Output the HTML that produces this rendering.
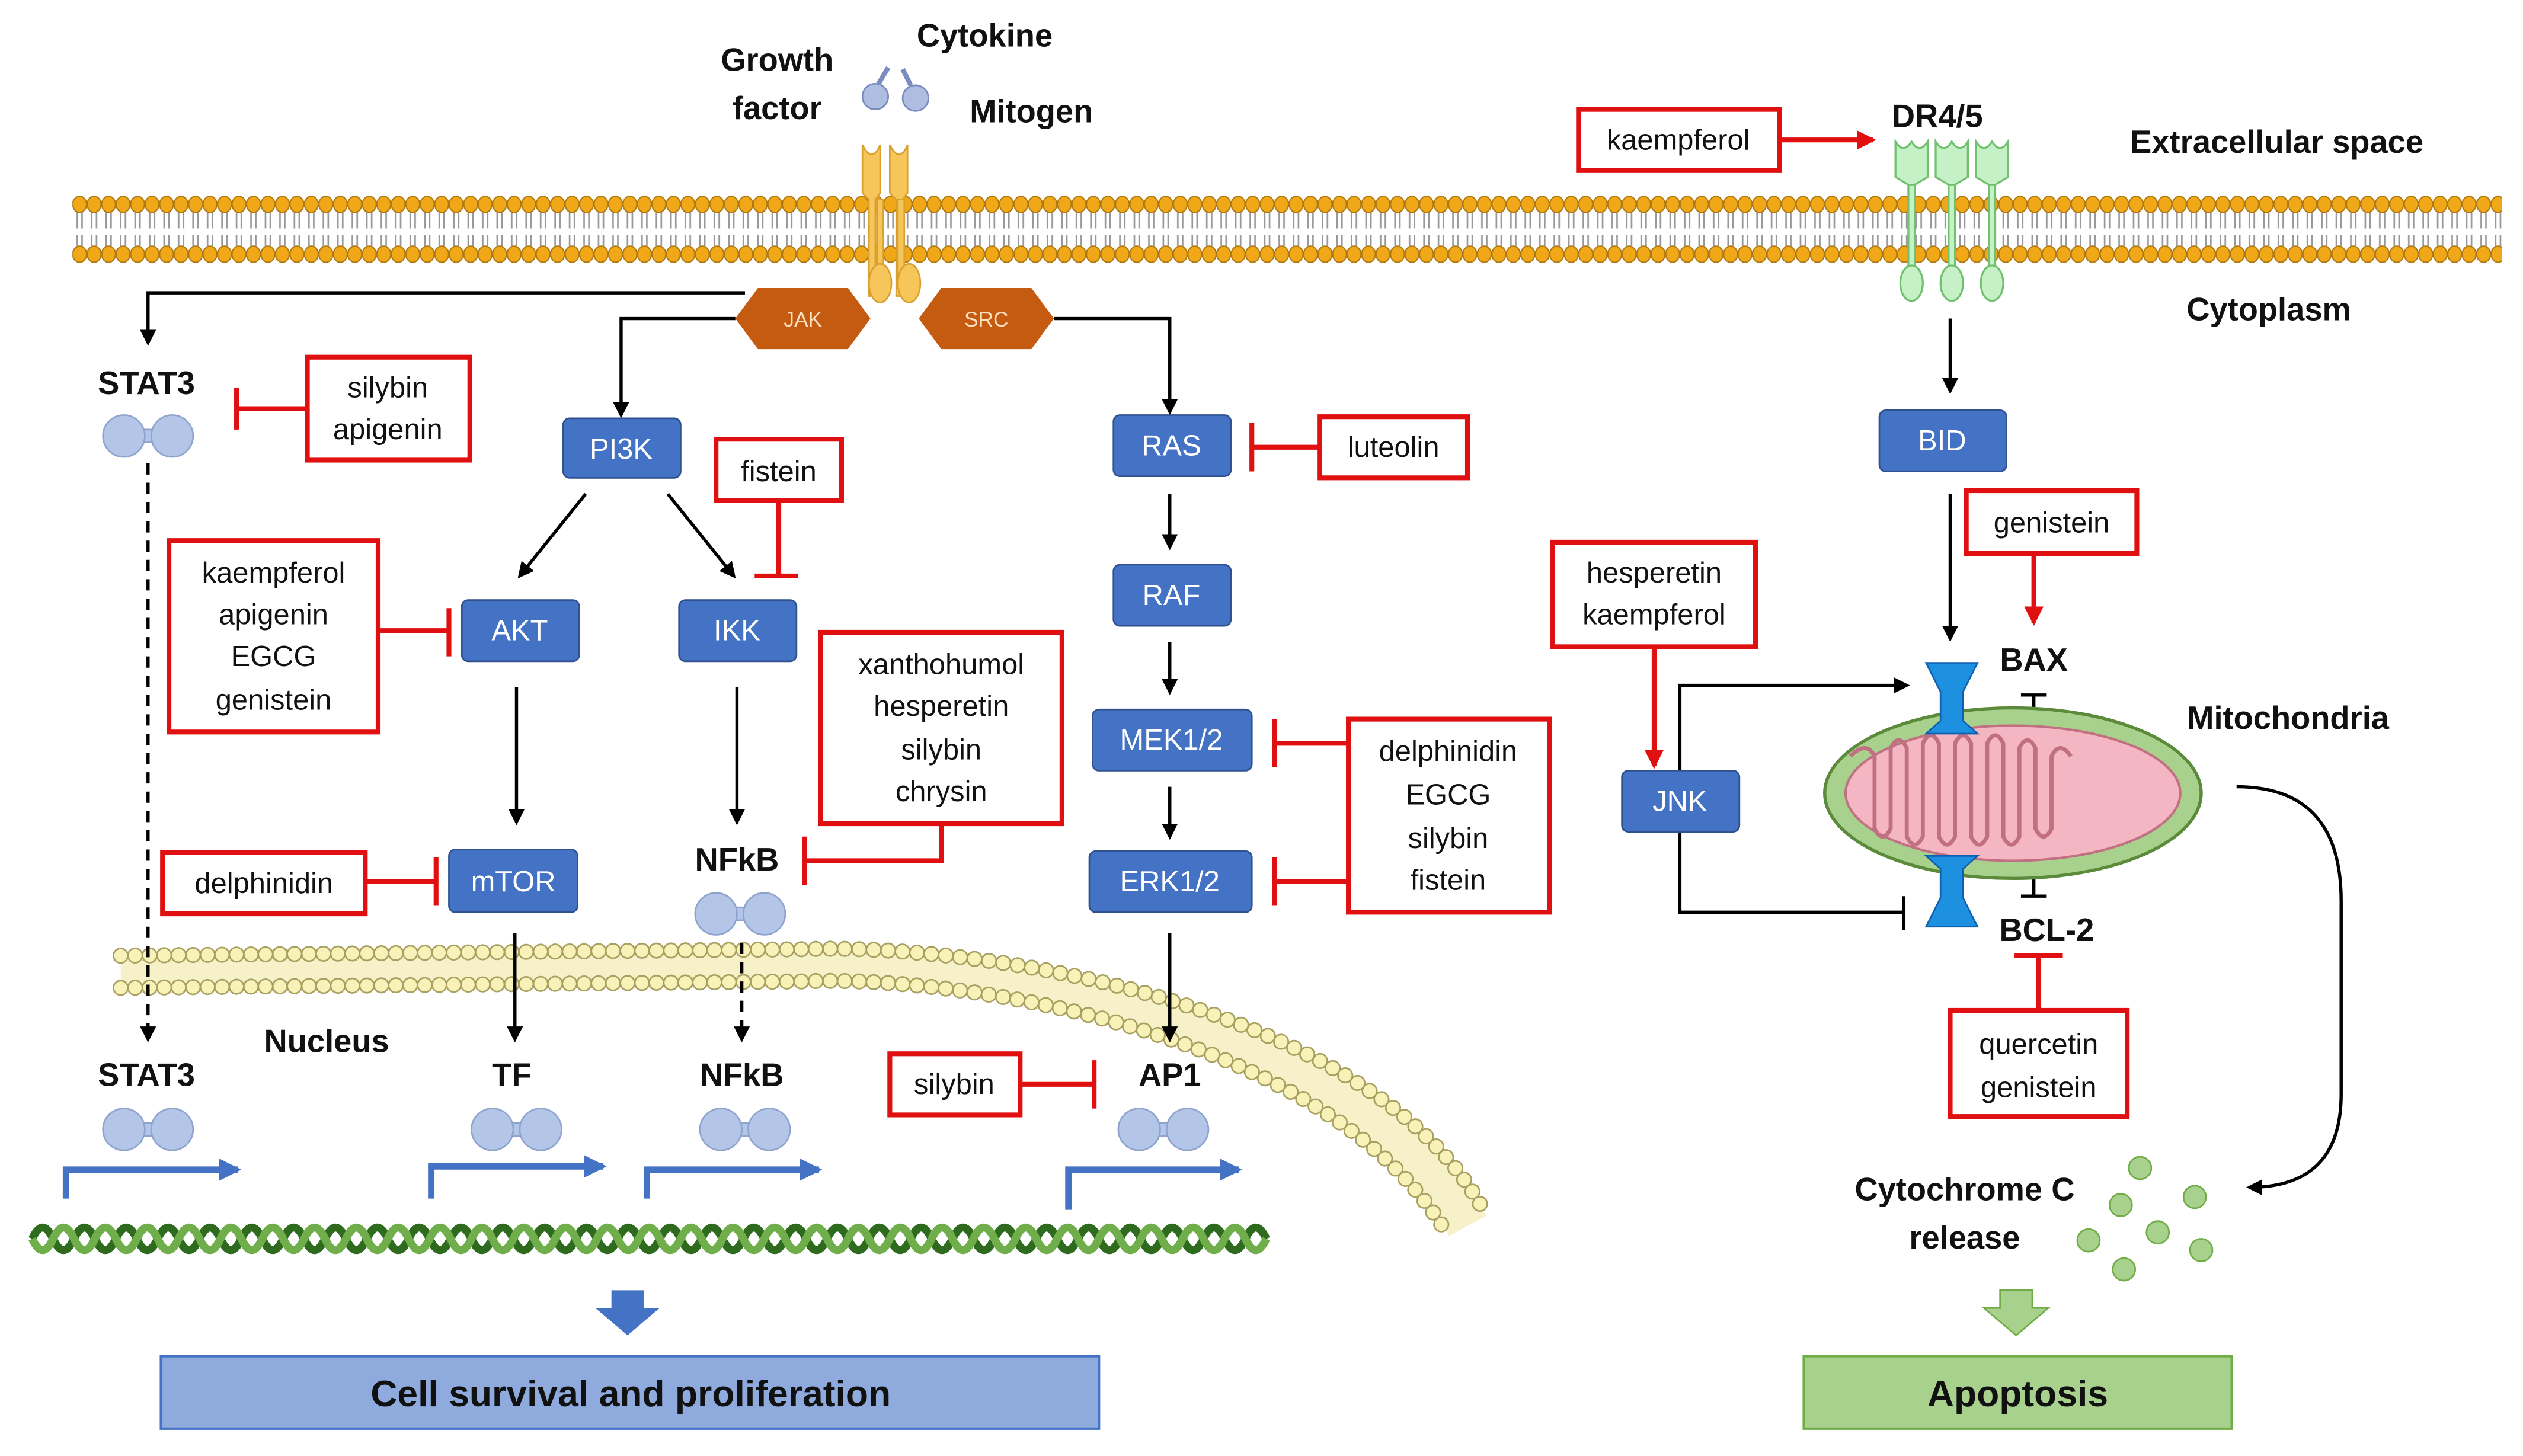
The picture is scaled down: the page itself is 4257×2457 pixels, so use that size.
<!DOCTYPE html>
<html><head><meta charset="utf-8"><style>
html,body{margin:0;padding:0;background:#fff;}
svg{display:block;}
text{font-family:"Liberation Sans",sans-serif;}
.b{font-weight:bold;font-size:20px;fill:#111;}
.w{fill:#fff;font-size:18px;}
.r{font-size:18px;fill:#111;}
</style></head><body>
<svg width="4257" height="2457" viewBox="0 0 1568 905" xmlns="http://www.w3.org/2000/svg">
<defs>
<pattern id="mem" x="45" y="0" width="9" height="905" patternUnits="userSpaceOnUse">
<path d="M3,131 L3,142 M6,131 L6,142 M3,146 L3,155 M6,146 L6,155" stroke="#999" stroke-width="1"/>
<ellipse cx="4.5" cy="127" rx="4.3" ry="5" fill="#f0a818" stroke="#b07810" stroke-width="0.8"/>
<ellipse cx="4.5" cy="158" rx="4.3" ry="5" fill="#f0a818" stroke="#b07810" stroke-width="0.8"/>
</pattern>
<marker id="a" markerWidth="10" markerHeight="10" refX="8" refY="5" orient="auto" markerUnits="userSpaceOnUse"><path d="M0,0 L10,5 L0,10 z" fill="#000"/></marker>
<marker id="ar" markerWidth="12" markerHeight="12" refX="10" refY="6" orient="auto" markerUnits="userSpaceOnUse"><path d="M0,0 L12,6 L0,12 z" fill="#e01010"/></marker>
<marker id="ab" markerWidth="14" markerHeight="14" refX="12" refY="7" orient="auto" markerUnits="userSpaceOnUse"><path d="M0,0 L14,7 L0,14 z" fill="#4472c4"/></marker>
</defs>

<rect x="45" y="118" width="1510" height="46" fill="url(#mem)"/>

<g fill="#aebde0" stroke="#7a8cc0" stroke-width="1">
<circle cx="544" cy="60" r="8"/><circle cx="569" cy="61" r="8"/>
<path d="M546,52 L552,42" stroke-width="3"/><path d="M566,53 L561,43" stroke-width="3"/>
</g>
<g fill="#f6c65a" stroke="#d9a030" stroke-width="1">
<path d="M536,90 q6,12 11,0 l0,30 -3,4 0,60 -4,0 0,-60 -4,-4z"/>
<path d="M553,90 q6,12 11,0 l0,30 -3,4 0,60 -4,0 0,-60 -4,-4z"/>
<rect x="545" y="124" width="4" height="50"/><rect x="558" y="124" width="4" height="50"/>
<ellipse cx="547" cy="176" rx="7" ry="12"/><ellipse cx="565" cy="176" rx="7" ry="12"/>
</g>

<g fill="#c6f0c6" stroke="#70c070" stroke-width="1.2">
<path d="M1178,88 q5,8 10,0 q5,8 10,0 l0,22 -10,6 -10,-6z"/>
<path d="M1203,88 q5,8 10,0 q5,8 10,0 l0,22 -10,6 -10,-6z"/>
<path d="M1228,88 q5,8 10,0 q5,8 10,0 l0,22 -10,6 -10,-6z"/>
<rect x="1186" y="115" width="4" height="55"/><rect x="1211" y="115" width="4" height="55"/><rect x="1236" y="115" width="4" height="55"/>
<ellipse cx="1188" cy="176" rx="7" ry="11"/><ellipse cx="1213" cy="176" rx="7" ry="11"/><ellipse cx="1238" cy="176" rx="7" ry="11"/>
</g>

<text class="b" x="483" y="44" text-anchor="middle">Growth</text>
<text class="b" x="483" y="74" text-anchor="middle">factor</text>
<text class="b" x="612" y="29" text-anchor="middle">Cytokine</text>
<text class="b" x="641" y="76" text-anchor="middle">Mitogen</text>
<text class="b" x="1204" y="79" text-anchor="middle">DR4/5</text>
<text class="b" x="1415" y="95" text-anchor="middle">Extracellular space</text>
<text class="b" x="1410" y="199" text-anchor="middle">Cytoplasm</text>

<polygon points="471,179 527,179 541,198 527,217 471,217 457,198" fill="#c55a11"/>
<polygon points="585,179 641,179 655,198 641,217 585,217 571,198" fill="#c55a11"/>
<text x="499" y="203" fill="#fde0c0" font-size="13" text-anchor="middle">JAK</text>
<text x="613" y="203" fill="#fde0c0" font-size="13" text-anchor="middle">SRC</text>

<!-- nuclear membrane -->
<g fill="none" stroke-linecap="round">
<path d="M75,604 L500,600 C600,596 840,630 912,762" stroke="#f6f1c8" stroke-width="26" stroke-linecap="butt"/>
<path d="M75,594 L500,590 C605,586 855,622 924,756" stroke="#a8a060" stroke-width="10" stroke-dasharray="0 9"/>
<path d="M75,594 L500,590 C605,586 855,622 924,756" stroke="#f8f2b8" stroke-width="8" stroke-dasharray="0 9"/>
<path d="M75,614 L500,610 C595,606 825,640 900,768" stroke="#a8a060" stroke-width="10" stroke-dasharray="0 9"/>
<path d="M75,614 L500,610 C595,606 825,640 900,768" stroke="#f8f2b8" stroke-width="8" stroke-dasharray="0 9"/>
</g>

<g stroke="#000" stroke-width="2" fill="none">
<path d="M463,182 L92,182 L92,213" marker-end="url(#a)"/>
<path d="M457,198 L386,198 L386,258" marker-end="url(#a)"/>
<path d="M655,198 L727,198 L727,256" marker-end="url(#a)"/>
<path d="M364,307 L323,358" marker-end="url(#a)"/>
<path d="M415,307 L456,358" marker-end="url(#a)"/>
<path d="M321,427 L321,511" marker-end="url(#a)"/>
<path d="M458,427 L458,511" marker-end="url(#a)"/>
<path d="M727,307 L727,340" marker-end="url(#a)"/>
<path d="M727,399 L727,430" marker-end="url(#a)"/>
<path d="M727,489 L727,520" marker-end="url(#a)"/>
<path d="M727,580 L727,646" marker-end="url(#a)"/>
<path d="M320,580 L320,646" marker-end="url(#a)"/>
<path d="M92,288 L92,646" stroke-dasharray="7,5" marker-end="url(#a)"/>
<path d="M461,586 L461,646" stroke-dasharray="7,5" marker-end="url(#a)"/>
<path d="M1212,198 L1212,243" marker-end="url(#a)"/>
<path d="M1212,307 L1212,397" marker-end="url(#a)"/>
<path d="M1044,479 L1044,426 L1185,426" marker-end="url(#a)"/>
<path d="M1044,517 L1044,567 L1183,567"/><path d="M1183,557 L1183,578"/>
<path d="M1264,432 L1264,557"/><path d="M1256,432 L1272,432"/><path d="M1256,557 L1272,557"/>
<path d="M1390,489 Q1455,489 1455,560 L1455,680 Q1455,738 1398,738" marker-end="url(#a)"/>
</g>

<!-- mitochondrion -->
<ellipse cx="1251" cy="493" rx="117" ry="53" fill="#a9d18e" stroke="#5a8a3a" stroke-width="2"/>
<ellipse cx="1251" cy="493" rx="104" ry="42" fill="#f4b6c2" stroke="#c07080" stroke-width="1.5"/>
<path d="M1150,470 q10,-10 15,0 l0,45 q5,10 10,0 l0,-50 q5,-10 10,0 l0,55 q5,10 10,0 l0,-58 q5,-10 10,0 l0,58 q5,10 10,0 l0,-58 q5,-10 10,0 l0,58 q5,10 10,0 l0,-58 q5,-10 10,0 l0,58 q5,10 10,0 l0,-55 q5,-10 10,0 l0,50 q5,10 10,0 l0,-45 q5,-10 12,0" fill="none" stroke="#c07080" stroke-width="2.5"/>
<g fill="#1e90e0" stroke="#1060b0">
<path d="M1197,412 L1229,412 L1220,430 L1220,448 L1229,456 L1197,456 L1206,448 L1206,430z"/>
<path d="M1197,532 L1229,532 L1220,540 L1220,558 L1229,576 L1197,576 L1206,558 L1206,540z"/>
</g>
<text class="b" x="1264" y="417" text-anchor="middle">BAX</text>
<text class="b" x="1272" y="585" text-anchor="middle">BCL-2</text>
<text class="b" x="1422" y="453" text-anchor="middle">Mitochondria</text>

<g fill="#4472c4" stroke="#2f528f" stroke-width="1">
<rect x="350" y="260" width="73" height="37" rx="4"/>
<rect x="287" y="373" width="73" height="38" rx="4"/>
<rect x="422" y="373" width="73" height="38" rx="4"/>
<rect x="279" y="528" width="80" height="39" rx="4"/>
<rect x="692" y="258" width="73" height="38" rx="4"/>
<rect x="692" y="351" width="73" height="38" rx="4"/>
<rect x="679" y="441" width="99" height="38" rx="4"/>
<rect x="677" y="529" width="101" height="38" rx="4"/>
<rect x="1168" y="255" width="79" height="38" rx="4"/>
<rect x="1008" y="479" width="73" height="38" rx="4"/>
</g>
<g text-anchor="middle">
<text class="w" x="386" y="285">PI3K</text>
<text class="w" x="323" y="398">AKT</text>
<text class="w" x="458" y="398">IKK</text>
<text class="w" x="319" y="554">mTOR</text>
<text class="w" x="728" y="283">RAS</text>
<text class="w" x="728" y="376">RAF</text>
<text class="w" x="728" y="466">MEK1/2</text>
<text class="w" x="727" y="554">ERK1/2</text>
<text class="w" x="1207" y="280">BID</text>
<text class="w" x="1044" y="504">JNK</text>
</g>

<g fill="#fff" stroke="#e01010" stroke-width="3">
<rect x="191" y="222" width="101" height="64"/>
<rect x="445" y="273" width="78" height="38"/>
<rect x="105" y="336" width="130" height="119"/>
<rect x="510" y="393" width="150" height="119"/>
<rect x="820" y="259" width="92" height="38"/>
<rect x="101" y="530" width="126" height="38"/>
<rect x="838" y="447" width="125" height="120"/>
<rect x="553" y="655" width="81" height="38"/>
<rect x="981" y="68" width="125" height="38"/>
<rect x="1222" y="305" width="106" height="39"/>
<rect x="965" y="337" width="126" height="65"/>
<rect x="1212" y="628" width="110" height="66"/>
</g>
<g stroke="#e01010" stroke-width="3" fill="none">
<path d="M191,254 L147,254 M147,241 L147,267"/>
<path d="M484,311 L484,358 M469,358 L496,358"/>
<path d="M235,392 L279,392 M279,378 L279,408"/>
<path d="M585,512 L585,535 L500,535 M500,520 L500,550"/>
<path d="M820,278 L778,278 M778,263 L778,293"/>
<path d="M227,548 L271,548 M271,533 L271,563"/>
<path d="M838,462 L792,462 M792,447 L792,477"/>
<path d="M838,548 L792,548 M792,533 L792,563"/>
<path d="M634,674 L680,674 M680,659 L680,689"/>
<path d="M1267,628 L1267,594 M1252,594 L1282,594"/>
<path d="M1106,87 L1164,87" marker-end="url(#ar)"/>
<path d="M1264,344 L1264,387" marker-end="url(#ar)"/>
<path d="M1028,402 L1028,476" marker-end="url(#ar)"/>
</g>
<g text-anchor="middle">
<text class="r" x="241" y="247">silybin</text><text class="r" x="241" y="273">apigenin</text>
<text class="r" x="484" y="299">fistein</text>
<text class="r" x="170" y="362">kaempferol</text><text class="r" x="170" y="388">apigenin</text><text class="r" x="170" y="414">EGCG</text><text class="r" x="170" y="441">genistein</text>
<text class="r" x="585" y="419">xanthohumol</text><text class="r" x="585" y="445">hesperetin</text><text class="r" x="585" y="472">silybin</text><text class="r" x="585" y="498">chrysin</text>
<text class="r" x="866" y="284">luteolin</text>
<text class="r" x="164" y="555">delphinidin</text>
<text class="r" x="900" y="473">delphinidin</text><text class="r" x="900" y="500">EGCG</text><text class="r" x="900" y="527">silybin</text><text class="r" x="900" y="553">fistein</text>
<text class="r" x="593" y="680">silybin</text>
<text class="r" x="1043" y="93">kaempferol</text>
<text class="r" x="1275" y="331">genistein</text>
<text class="r" x="1028" y="362">hesperetin</text><text class="r" x="1028" y="388">kaempferol</text>
<text class="r" x="1267" y="655">quercetin</text><text class="r" x="1267" y="682">genistein</text>
</g>

<text class="b" x="91" y="245" text-anchor="middle">STAT3</text>
<text class="b" x="458" y="541" text-anchor="middle">NFkB</text>
<text class="b" x="203" y="654" text-anchor="middle">Nucleus</text>
<text class="b" x="91" y="675" text-anchor="middle">STAT3</text>
<text class="b" x="318" y="675" text-anchor="middle">TF</text>
<text class="b" x="461" y="675" text-anchor="middle">NFkB</text>
<text class="b" x="727" y="675" text-anchor="middle">AP1</text>

<g fill="#b4c6e7" stroke="#8ea4cf" stroke-width="1">
<g transform="translate(92,271)"><rect x="-12" y="-4" width="24" height="8"/><circle cx="-15" cy="0" r="13"/><circle cx="15" cy="0" r="13"/></g>
<g transform="translate(460,568)"><rect x="-12" y="-4" width="24" height="8"/><circle cx="-15" cy="0" r="13"/><circle cx="15" cy="0" r="13"/></g>
<g transform="translate(92,702)"><rect x="-12" y="-4" width="24" height="8"/><circle cx="-15" cy="0" r="13"/><circle cx="15" cy="0" r="13"/></g>
<g transform="translate(321,702)"><rect x="-12" y="-4" width="24" height="8"/><circle cx="-15" cy="0" r="13"/><circle cx="15" cy="0" r="13"/></g>
<g transform="translate(463,702)"><rect x="-12" y="-4" width="24" height="8"/><circle cx="-15" cy="0" r="13"/><circle cx="15" cy="0" r="13"/></g>
<g transform="translate(723,702)"><rect x="-12" y="-4" width="24" height="8"/><circle cx="-15" cy="0" r="13"/><circle cx="15" cy="0" r="13"/></g>
</g>

<g stroke="#4472c4" stroke-width="4" fill="none">
<path d="M41,745 L41,727 L148,727" marker-end="url(#ab)"/>
<path d="M268,745 L268,725 L375,725" marker-end="url(#ab)"/>
<path d="M402,745 L402,727 L509,727" marker-end="url(#ab)"/>
<path d="M664,752 L664,727 L770,727" marker-end="url(#ab)"/>
</g>

<g fill="none" stroke-width="5">
<path stroke="#2e6b1e" d="M20,770 q6.5,-14 13,0 t13,0 t13,0 t13,0 t13,0 t13,0 t13,0 t13,0 t13,0 t13,0 t13,0 t13,0 t13,0 t13,0 t13,0 t13,0 t13,0 t13,0 t13,0 t13,0 t13,0 t13,0 t13,0 t13,0 t13,0 t13,0 t13,0 t13,0 t13,0 t13,0 t13,0 t13,0 t13,0 t13,0 t13,0 t13,0 t13,0 t13,0 t13,0 t13,0 t13,0 t13,0 t13,0 t13,0 t13,0 t13,0 t13,0 t13,0 t13,0 t13,0 t13,0 t13,0 t13,0 t13,0 t13,0 t13,0 t13,0 t13,0 t13,0"/>
<path stroke="#6fae4a" d="M20,770 q6.5,14 13,0 t13,0 t13,0 t13,0 t13,0 t13,0 t13,0 t13,0 t13,0 t13,0 t13,0 t13,0 t13,0 t13,0 t13,0 t13,0 t13,0 t13,0 t13,0 t13,0 t13,0 t13,0 t13,0 t13,0 t13,0 t13,0 t13,0 t13,0 t13,0 t13,0 t13,0 t13,0 t13,0 t13,0 t13,0 t13,0 t13,0 t13,0 t13,0 t13,0 t13,0 t13,0 t13,0 t13,0 t13,0 t13,0 t13,0 t13,0 t13,0 t13,0 t13,0 t13,0 t13,0 t13,0 t13,0 t13,0 t13,0 t13,0 t13,0"/>
</g>

<text class="b" x="1221" y="746" text-anchor="middle">Cytochrome C</text>
<text class="b" x="1221" y="776" text-anchor="middle">release</text>
<g fill="#a9d18e" stroke="#70ad47" stroke-width="1">
<circle cx="1330" cy="726" r="7"/><circle cx="1318" cy="749" r="7"/><circle cx="1364" cy="744" r="7"/>
<circle cx="1341" cy="766" r="7"/><circle cx="1298" cy="771" r="7"/><circle cx="1368" cy="777" r="7"/><circle cx="1320" cy="789" r="7"/>
</g>

<path d="M380,802 L400,802 L400,813 L410,813 L390,830 L370,813 L380,813z" fill="#4472c4"/>
<path d="M1243,802 L1263,802 L1263,813 L1273,813 L1253,830 L1233,813 L1243,813z" fill="#a9d18e" stroke="#70ad47"/>
<rect x="100" y="843" width="583" height="45" fill="#8faadc" stroke="#4472c4" stroke-width="1.5"/>
<text x="392" y="874" font-size="23" font-weight="bold" text-anchor="middle" fill="#111">Cell survival and proliferation</text>
<rect x="1121" y="843" width="266" height="45" fill="#a9d18e" stroke="#70ad47" stroke-width="1.5"/>
<text x="1254" y="874" font-size="23" font-weight="bold" text-anchor="middle" fill="#111">Apoptosis</text>
</svg>
</body></html>
